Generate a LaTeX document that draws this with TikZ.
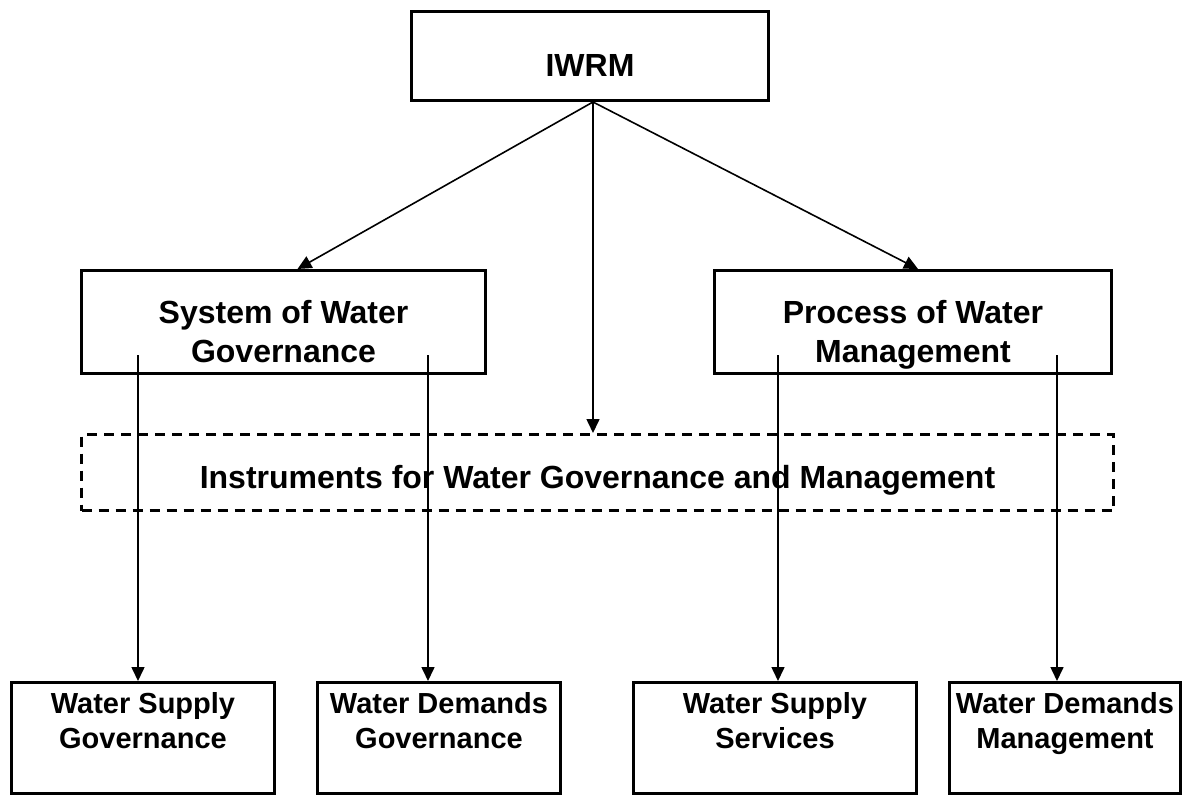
\documentclass[tikz,border=0pt]{standalone}
\usepackage{fontspec}
\setmainfont{Liberation Sans}
\usetikzlibrary{arrows.meta}

\begin{document}
\begin{tikzpicture}[x=1pt,y=-1pt,
    box/.style={draw=black, line width=3pt, inner sep=0pt, align=center, font=\bfseries\fontsize{32}{39}\selectfont},
    smallbox/.style={box, font=\bfseries\fontsize{29}{35}\selectfont},
    dashbox/.style={box, dash pattern=on 10pt off 7pt},
    arr/.style={-{Triangle[length=14pt,width=13pt]}, line width=1.6pt}]
    \useasboundingbox (0,0) rectangle (1186,797);
    \node[box, minimum width=357pt, text height=65.5pt, text depth=23.5pt] (iwrm) at (590,56) {IWRM};
    \node[box, minimum width=404pt, text height=91.5pt, text depth=11.5pt] (sysgov) at (283.5,322) {System of Water\\Governance};
    \node[box, minimum width=397pt, text height=91.5pt, text depth=11.5pt] (procman) at (913,322) {Process of Water\\Management};
    \node[dashbox, minimum width=1032pt, text height=53.5pt, text depth=22.5pt] (instr) at (597.5,472.5) {Instruments for Water Governance and Management};
    \node[smallbox, minimum width=263pt, text height=65.5pt, text depth=45.5pt] (wsg) at (143,738) {Water Supply\\Governance};
    \node[smallbox, minimum width=243pt, text height=65.5pt, text depth=45.5pt] (wdg) at (439,738) {Water Demands\\Governance};
    \node[smallbox, minimum width=283pt, text height=65.5pt, text depth=45.5pt] (wss) at (775,738) {Water Supply\\Services};
    \node[smallbox, minimum width=231pt, text height=65.5pt, text depth=45.5pt] (wdm) at (1065,738) {Water Demands\\Management};
    % start points inside the middle boxes
    \coordinate (g1) at (138,355);
    \coordinate (g2) at (428,355);
    \coordinate (m1) at (778,355);
    \coordinate (m2) at (1057,355);
    \draw[arr] ([xshift=3pt]iwrm.south) -- ([xshift=14pt]sysgov.north);
    \draw[arr] ([xshift=3pt]iwrm.south) -- ([xshift=5pt]procman.north);
    \draw[arr] ([xshift=3pt]iwrm.south) -- ([xshift=3pt]iwrm.south |- instr.north);
    \draw[arr] (g1) -- (g1 |- wsg.north);
    \draw[arr] (g2) -- (g2 |- wdg.north);
    \draw[arr] (m1) -- (m1 |- wss.north);
    \draw[arr] (m2) -- (m2 |- wdm.north);
\end{tikzpicture}
\end{document}
